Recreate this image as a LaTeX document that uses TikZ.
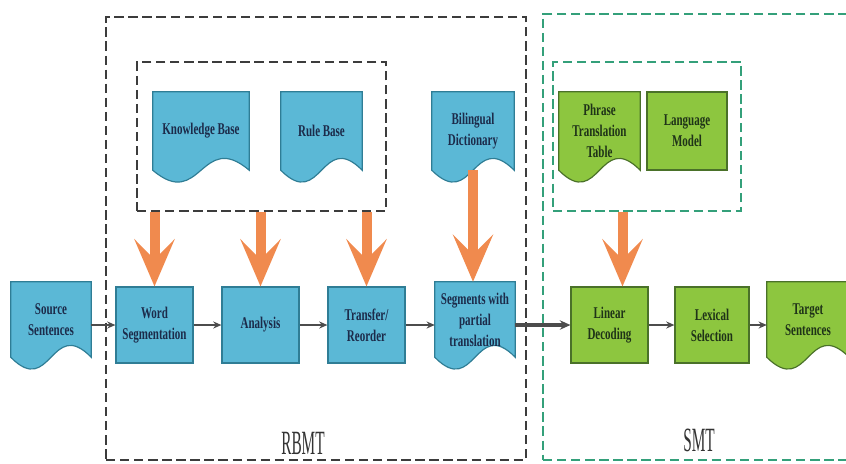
\documentclass[tikz,border=0pt]{standalone}
\usepackage{fontspec}
\setmainfont[FakeStretch=0.67]{Liberation Serif}
\newfontfamily\tagfont[FakeStretch=0.45]{Liberation Serif}
\usetikzlibrary{arrows.meta,backgrounds,calc}

\definecolor{docblue}{HTML}{5BB8D6}
\definecolor{lineblue}{HTML}{2F7D95}
\definecolor{docgreen}{HTML}{8DC63F}
\definecolor{linegreen}{HTML}{4A7129}
\definecolor{bigorange}{HTML}{F08A4E}
\definecolor{smtgreen}{HTML}{34A07A}
\definecolor{framegray}{HTML}{3C3C3C}
\definecolor{inkblue}{HTML}{1C2B4A}
\definecolor{inkgreen}{HTML}{1F3318}

% one pixel of the drawing
\newcommand{\pu}{0.03cm}
% document shape behind a node
\newcommand{\docshape}[2]{\filldraw[#2](#1.north west)--(#1.north east)--(#1.south east) .. controls ($(#1.south)+(0,-41)$) and ($(#1.south)+(0,41)$) .. (#1.south west)--cycle;}

\begin{document}
\begin{tikzpicture}[x=\pu, y=-\pu]
%define
\tikzstyle{blueproc} = [rectangle, minimum width=77*\pu, minimum height=76*\pu, inner sep=0pt, text centered, align=center, draw=lineblue, fill=docblue, line width=1pt, text=inkblue, font=\bfseries\fontsize{14}{18}\selectfont]
\tikzstyle{greenproc} = [rectangle, minimum width=77*\pu, minimum height=76*\pu, inner sep=0pt, text centered, align=center, draw=linegreen, fill=docgreen, line width=1pt, text=inkgreen, font=\bfseries\fontsize{14}{18}\selectfont]
\tikzstyle{bluedoc} = [rectangle, minimum height=78*\pu, inner sep=0pt, text centered, align=center, text=inkblue, font=\bfseries\fontsize{14}{18}\selectfont]
\tikzstyle{greendoc} = [rectangle, minimum height=78*\pu, inner sep=0pt, text centered, align=center, text=inkgreen, font=\bfseries\fontsize{14}{18}\selectfont]
\tikzstyle{bluefill} = [draw=lineblue, fill=docblue, line width=1pt]
\tikzstyle{greenfill} = [draw=linegreen, fill=docgreen, line width=1pt]
\tikzstyle{rbframe} = [rectangle, inner sep=0pt, draw=framegray, line width=1.5pt, dash pattern=on 8pt off 4pt]
\tikzstyle{smtframe} = [rectangle, inner sep=0pt, draw=smtgreen, line width=1.5pt, dash pattern=on 8pt off 4pt]
\tikzstyle{tag} = [font=\tagfont\fontsize{29}{30}\selectfont, text=black!80]
\tikzstyle{flow} = [-{Stealth[length=7pt, width=6pt]}, line width=1.5pt, draw=black!70]
\tikzstyle{flowthick} = [-{Stealth[length=9pt, width=8pt]}, line width=2.6pt, draw=black!70]
\tikzstyle{bigarrow} = [-{Stealth[length=1.41cm, width=1.2cm, inset=0.6cm]}, line width=0.3cm, draw=bigorange, fill=bigorange]

\useasboundingbox (0,0) rectangle (846,463);

%frames
\node[rbframe, minimum width=420*\pu, minimum height=443*\pu](rbmt) at (316,238.5){};
\node[smtframe, minimum width=337*\pu, minimum height=446*\pu](smt) at (711.5,237){};
\node[rbframe, minimum width=249*\pu, minimum height=149*\pu](kbframe) at (261.5,136.5){};
\node[smtframe, minimum width=188*\pu, minimum height=149*\pu](smtframe) at (647,136.5){};
\node[tag](rbmttag) at (303,443){RBMT};
\node[tag](smttag) at (699,440){SMT};

%knowledge
\node[bluedoc, minimum width=96*\pu](kb) at (201,131){Knowledge Base};
\node[bluedoc, minimum width=81*\pu](rb) at (321.5,131){Rule Base};
\node[bluedoc, minimum width=82*\pu](bd) at (473,131){Bilingual\\Dictionary};
\node[greendoc, minimum width=81*\pu](ptt) at (599.5,131){Phrase\\Translation\\Table};
\node[greenproc, minimum width=80*\pu, minimum height=78*\pu](lm) at (687,131){Language\\Model};

%pipeline
\node[bluedoc, minimum width=80*\pu, minimum height=75*\pu](src) at (51,319.5){Source\\Sentences};
\node[blueproc](ws) at (154.5,325){Word\\Segmentation};
\node[blueproc](an) at (260.5,325){Analysis};
\node[blueproc](tr) at (366.5,325){Transfer/\\Reorder};
\node[bluedoc, minimum width=80*\pu, minimum height=75*\pu](seg) at (475,319.5){Segments with\\partial\\translation};
\node[greenproc](ld) at (609.5,325){Linear\\Decoding};
\node[greenproc, minimum width=74*\pu](ls) at (712,325){Lexical\\Selection};
\node[greendoc, minimum width=82*\pu, minimum height=75*\pu](tgt) at (808,319.5){Target\\Sentences};

\begin{scope}[on background layer]
\foreach \n in {src, kb, rb, bd, seg}{\docshape{\n}{bluefill}}
\foreach \n in {ptt, tgt}{\docshape{\n}{greenfill}}
\end{scope}

%line
\draw[flow](src.east |- ws.west)--(ws.west);
\draw[flow](ws)--(an);
\draw[flow](an)--(tr);
\draw[flow](tr.east)--(tr.east -| seg.west);
\draw[flowthick](seg.east |- ld.west)--(ld.west);
\draw[flow](ld)--(ls);
\draw[flow](ls.east)--(ls.east -| tgt.west);

%orange
\draw[bigarrow](kbframe.south -| ws.north)--(ws.north);
\draw[bigarrow](kbframe.south -| an.north)--(an.north);
\draw[bigarrow](kbframe.south -| tr.north)--(tr.north);
\draw[bigarrow](bd.south)--(bd.south |- seg.north);
\draw[bigarrow]([xshift=13*\pu]smtframe.south -| ld.north)--([xshift=13*\pu]ld.north);

\end{tikzpicture}
\end{document}
